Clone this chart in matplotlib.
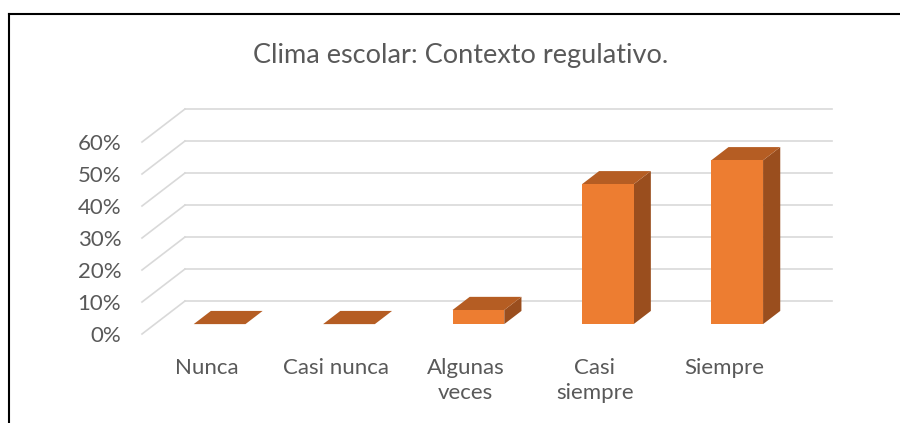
import matplotlib.pyplot as plt
from matplotlib.patches import Polygon
from matplotlib.lines import Line2D

categories = ["Nunca", "Casi nunca", "Algunas\nveces", "Casi\nsiempre", "Siempre"]
values = [0.0, 0.0, 4.4, 43.7, 51.2]
yticks = [0, 10, 20, 30, 40, 50, 60]
ytick_labels = ["0%", "10%", "20%", "30%", "40%", "50%", "60%"]
title = "Clima escolar: Contexto regulativo."

FRONT = "#ED7D31"
TOP = "#B55D23"
SIDE = "#9A4E1E"
GRID = "#D9D9D9"
TEXT = "#595959"

plt.rcParams['font.family'] = ['Lato', 'DejaVu Sans']

fig = plt.figure(figsize=(9, 4.23), dpi=100)
ax = fig.add_axes([142 / 900, 89 / 423, 647 / 900, 192 / 423])
ax.set_xlim(-0.5, 4.5)
ax.set_ylim(0, 60)

# oblique depth offset for the full floor depth (data units)
DX = 0.332
DY = 10.3
d0, d1 = 0.3, 0.7
w = 0.4

# back wall gridlines + left wall diagonals
for v in yticks:
    ax.add_line(Line2D([-0.5 + DX, 4.5 + DX], [v + DY, v + DY], color=GRID, lw=1.2, clip_on=False, zorder=1))
    ax.add_line(Line2D([-0.5, -0.5 + DX], [v, v + DY], color=GRID, lw=1.2, clip_on=False, zorder=1))

# 3d-looking bars
for i, v in enumerate(values):
    x0 = i + d0 * DX - w / 2
    x1 = x0 + w
    y0 = d0 * DY
    y1 = y0 + v
    ddx = (d1 - d0) * DX
    ddy = (d1 - d0) * DY
    side = [(x1, y0), (x1 + ddx, y0 + ddy), (x1 + ddx, y1 + ddy), (x1, y1)]
    top = [(x0, y1), (x1, y1), (x1 + ddx, y1 + ddy), (x0 + ddx, y1 + ddy)]
    if v > 0:
        ax.add_patch(Polygon(side, closed=True, fc=SIDE, ec="none", clip_on=False, zorder=3))
    ax.add_patch(Polygon(top, closed=True, fc=TOP, ec="none", clip_on=False, zorder=3))
    if v > 0:
        ax.add_patch(Polygon([(x0, y0), (x1, y0), (x1, y1), (x0, y1)], closed=True,
                             fc=FRONT, ec="none", clip_on=False, zorder=4))

ax.set_yticks(yticks)
ax.set_yticklabels(ytick_labels)
ax.set_xticks(range(len(categories)))
ax.set_xticklabels(categories, linespacing=1.35)
ax.tick_params(axis="y", length=0, pad=15, labelsize=16, labelcolor=TEXT)
ax.tick_params(axis="x", length=0, pad=17, labelsize=16, labelcolor=TEXT)
for s in ax.spines.values():
    s.set_visible(False)
ax.patch.set_alpha(0)

fig.text(461 / 900, 1 - 55 / 423, title, ha="center", va="center", fontsize=19.5, color=TEXT)

# chart border (top and left edges visible)
fig.add_artist(Line2D([9 / 900, 1], [1 - 14 / 423, 1 - 14 / 423], color="black", lw=1.5, transform=fig.transFigure))
fig.add_artist(Line2D([9 / 900, 9 / 900], [0, 1 - 14 / 423], color="black", lw=1.5, transform=fig.transFigure))

fig.savefig("out.png", dpi=100)
